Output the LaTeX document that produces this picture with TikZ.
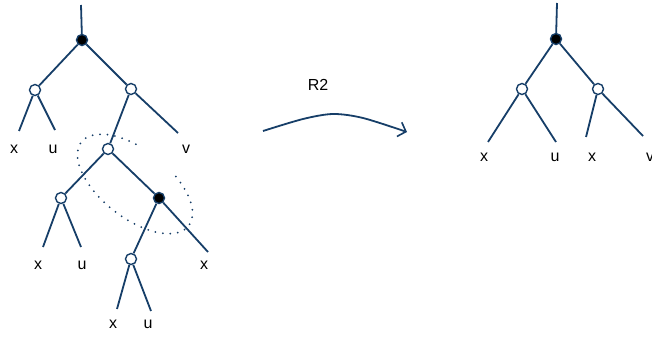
\documentclass[tikz,border=0pt]{standalone}
\usepackage{fontspec}
\setmainfont{Liberation Sans}
\usepackage{tikz}
\usetikzlibrary{arrows.meta,positioning,calc}
\definecolor{treeblue}{RGB}{22,62,104}

\begin{document}
\begin{tikzpicture}[x=1pt, y=-1pt,
    edge/.style={draw=treeblue, line width=1.8pt},
    open/.style={circle, draw=treeblue, fill=white, line width=1.4pt, inner sep=0pt, minimum size=11pt},
    full/.style={open, fill=black},
    leaf/.style={font=\fontsize{16}{19}\selectfont, inner sep=0pt}]
    \useasboundingbox (0,0) rectangle (652,339);

    % Left tree
    \node[full] (r) at (82,40) {};
    \node[open] (a) at (35,90) {};
    \node[open] (b) at (131,89) {};
    \node[open] (c) at (108,149) {};
    \node[open] (d) at (61,198) {};
    \node[full] (e) at (159,198) {};
    \node[open] (f) at (131,259) {};
    \coordinate (rt) at (81,5);
    \coordinate (a1) at (19,131);
    \coordinate (a2) at (55,130);
    \coordinate (b2) at (178,133);
    \coordinate (d1) at (43,247);
    \coordinate (d2) at (81,247);
    \coordinate (e2) at (208,252);
    \coordinate (f1) at (117,309);
    \coordinate (f2) at (151,311);
    \draw[edge] (rt) -- (r);
    \draw[edge] (r) -- (a);
    \draw[edge] (r) -- (b);
    \draw[edge] (a) -- (a1);
    \draw[edge] (a) -- (a2);
    \draw[edge] (b) -- (c);
    \draw[edge] (b) -- (b2);
    \draw[edge] (c) -- (d);
    \draw[edge] (c) -- (e);
    \draw[edge] (d) -- (d1);
    \draw[edge] (d) -- (d2);
    \draw[edge] (e) -- (f);
    \draw[edge] (e) -- (e2);
    \draw[edge] (f) -- (f1);
    \draw[edge] (f) -- (f2);

    % Labels
    \node[leaf] (la1) at (14,149) {x};
    \node[leaf] (la2) at (53,149) {u};
    \node[leaf] (lb2) at (186,149) {v};
    \node[leaf] (ld1) at (38,265) {x};
    \node[leaf] (ld2) at (82,265) {u};
    \node[leaf] (le2) at (204,265) {x};
    \node[leaf] (lf1) at (113,324) {x};
    \node[leaf] (lf2) at (148,324) {u};

    % Dotted loop round the pair
    \draw[treeblue, line width=2pt, line cap=round, dash pattern=on 0pt off 7.5pt]
        plot[domain=-66:252, samples=80, variable=\t]
        ({135 + 68*cos(\t)*0.788 - 34*sin(\t)*0.616},
         {184 + 68*cos(\t)*0.616 + 34*sin(\t)*0.788});

    % Rewrite arrow
    \draw[treeblue, line width=1.8pt, -{Straight Barb[length=7pt, width=15pt, line width=1.6pt]}]
        plot[smooth] coordinates {(263,131) (303,119) (333,114) (363,118) (407,132)};
    \node[leaf] (rule) at (318,85) {R2};

    % Right tree
    \node[full] (s) at (556,39) {};
    \node[open] (g) at (522,89) {};
    \node[open] (h) at (598,89) {};
    \coordinate (st) at (557,3);
    \coordinate (g1) at (488,142);
    \coordinate (g2) at (556,142);
    \coordinate (h1) at (586,137);
    \coordinate (h2) at (643,136);
    \draw[edge] (st) -- (s);
    \draw[edge] (s) -- (g);
    \draw[edge] (s) -- (h);
    \draw[edge] (g) -- (g1);
    \draw[edge] (g) -- (g2);
    \draw[edge] (h) -- (h1);
    \draw[edge] (h) -- (h2);
    \node[leaf] (lg1) at (484,157) {x};
    \node[leaf] (lg2) at (555,157) {u};
    \node[leaf] (lh1) at (592,157) {x};
    \node[leaf] (lh2) at (650,157) {v};
\end{tikzpicture}
\end{document}
